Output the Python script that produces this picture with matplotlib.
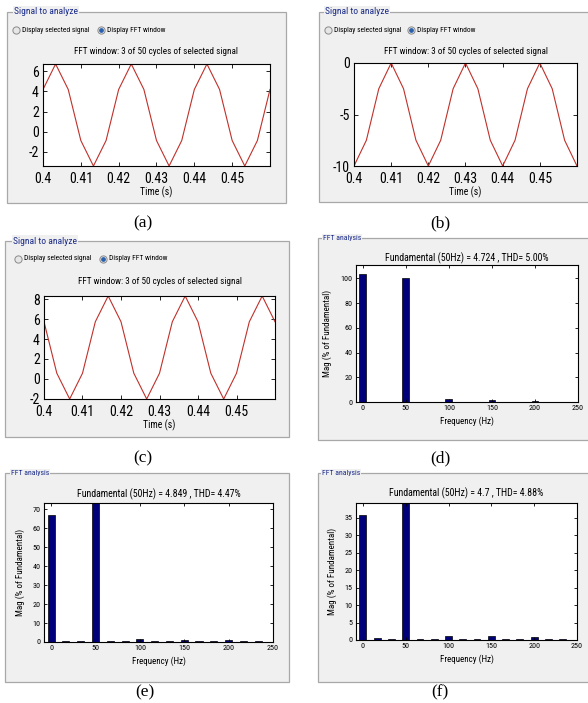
import matplotlib
matplotlib.use("Agg")
import matplotlib.pyplot as plt
from matplotlib.patches import Rectangle
from matplotlib.lines import Line2D
from matplotlib import font_manager

names = {f.name for f in font_manager.fontManager.ttflist}

def pick(cands, default):
    for c in cands:
        if c in names:
            return c
    return default

NARROW = pick(['Liberation Sans Narrow', 'Arial Narrow', 'Roboto Condensed',
               'Archivo Narrow', 'Asap Condensed', 'Barlow Semi Condensed'], 'DejaVu Sans')
SERIF = pick(['Liberation Serif', 'Tinos'], 'DejaVu Serif')

# ---------------- data ----------------
sig_t = [0.4, 0.40333, 0.40667, 0.41, 0.41333, 0.41667, 0.42, 0.42333, 0.42667,
         0.43, 0.43333, 0.43667, 0.44, 0.44333, 0.44667, 0.45, 0.45333, 0.45667, 0.46]
sig_a = [4.2, 6.73, 4.2, -0.87, -3.4, -0.87, 4.2, 6.73, 4.2, -0.87, -3.4, -0.87,
         4.2, 6.73, 4.2, -0.87, -3.4, -0.87, 4.2]
sig_b = [-10, -7.5, -2.5, 0, -2.5, -7.5, -10, -7.5, -2.5, 0, -2.5, -7.5,
         -10, -7.5, -2.5, 0, -2.5, -7.5, -10]
sig_c = [5.75, 0.55, -2.05, 0.55, 5.75, 8.35, 5.75, 0.55, -2.05, 0.55, 5.75, 8.35,
         5.75, 0.55, -2.05, 0.55, 5.75, 8.35, 5.75]
sig_xticks = [0.4, 0.41, 0.42, 0.43, 0.44, 0.45]
sig_xticklabels = ['0.4', '0.41', '0.42', '0.43', '0.44', '0.45']

fft_freq = [0, 16.67, 33.33, 50, 66.67, 83.33, 100, 116.67, 133.33, 150, 166.67,
            183.33, 200, 216.67, 233.33]
mag_d = [103.5, 0.3, 0.3, 100, 0.3, 0.3, 2.2, 0.3, 0.3, 1.6, 0.3, 0.3, 1.2, 0.3, 0.3]
mag_e = [67, 0.3, 0.3, 100, 0.3, 0.3, 1.6, 0.3, 0.3, 0.8, 0.3, 0.3, 0.8, 0.3, 0.3]
mag_f = [35.8, 0.7, 0.2, 100, 0.2, 0.2, 1.1, 0.2, 0.2, 1.1, 0.2, 0.2, 0.8, 0.2, 0.2]
fft_xticks = [0, 50, 100, 150, 200, 250]

title_sig = 'FFT window: 3 of 50 cycles of selected signal'
title_d = 'Fundamental (50Hz) = 4.724 , THD= 5.00%'
title_e = 'Fundamental (50Hz) = 4.849 , THD= 4.47%'
title_f = 'Fundamental (50Hz) = 4.7 , THD= 4.88%'
captions = ['(a)', '(b)', '(c)', '(d)', '(e)', '(f)']

# ---------------- figure ----------------
W, H = 588, 703
fig = plt.figure(figsize=(W / 100, H / 100), dpi=100)
fig.patch.set_facecolor('white')

def fx(x):
    return x / W

def fy(y):
    return 1 - y / H

def frame(l, t, r, b, title, tx, fs):
    rect = Rectangle((fx(l), fy(b)), fx(r) - fx(l), fy(t) - fy(b),
                     transform=fig.transFigure, facecolor='#f0f0f0',
                     edgecolor='#a8a8a8', lw=0.9, zorder=0)
    fig.add_artist(rect)
    fig.text(fx(tx), fy(t), title, family=NARROW, fontsize=fs, color='#1a2a8a',
             va='center', ha='left', zorder=1,
             bbox=dict(facecolor='#f0f0f0', edgecolor='none', pad=0.8))

def radio(y, x1, x2):
    for x, sel in ((x1, False), (x2, True)):
        fig.add_artist(Line2D([fx(x)], [fy(y)], marker='o', markersize=5.2,
                              markerfacecolor='#e6e6e6', markeredgecolor='#8a8a8a',
                              markeredgewidth=0.7, transform=fig.transFigure))
        if sel:
            fig.add_artist(Line2D([fx(x)], [fy(y)], marker='o', markersize=2.4,
                                  markerfacecolor='#2a5fb0', markeredgecolor='#2a5fb0',
                                  transform=fig.transFigure))
    fig.text(fx(x1 + 6), fy(y), 'Display selected signal', family=NARROW, fontsize=5.4,
             va='center', ha='left')
    fig.text(fx(x2 + 6), fy(y), 'Display FFT window', family=NARROW, fontsize=5.4,
             va='center', ha='left')

def add_ax(l, t, r, b):
    ax = fig.add_axes([fx(l), fy(b), fx(r) - fx(l), fy(t) - fy(b)])
    ax.set_facecolor('white')
    for s in ax.spines.values():
        s.set_linewidth(0.8)
        s.set_color('black')
    return ax

def sig_panel(box, t_title, vals, ylim, yticks, ticklbls):
    l, t, r, b = box
    ax = add_ax(l, t, r, b)
    ax.plot(sig_t, vals, color='#c0302a', lw=0.8)
    ax.set_xlim(0.4, 0.46)
    ax.set_ylim(*ylim)
    ax.set_xticks(sig_xticks)
    ax.set_xticklabels(sig_xticklabels)
    ax.set_yticks(yticks)
    ax.set_yticklabels(ticklbls)
    ax.tick_params(direction='in', top=True, right=True, length=3, width=0.6,
                   labelsize=10)
    ax.tick_params(axis='x', pad=4)
    ax.tick_params(axis='y', pad=3)
    for lab in ax.get_xticklabels() + ax.get_yticklabels():
        lab.set_family(NARROW)
    fig.text(fx((l + r) / 2), fy(t_title), title_sig, family=NARROW, fontsize=6.6,
             ha='center', va='center')
    fig.text(fx((l + r) / 2), fy(b + 26), 'Time (s)', family=NARROW, fontsize=7,
             ha='center', va='center')
    return ax

def fft_panel(box, t_title, title, mags, ylim, yticks, ylab_x):
    l, t, r, b = box
    ax = add_ax(l, t, r, b)
    ax.bar(fft_freq, mags, width=8, color='#00007a', edgecolor='black', lw=0.5)
    ax.set_xlim(-8, 250)
    ax.set_ylim(*ylim)
    ax.set_xticks(fft_xticks)
    ax.set_yticks(yticks)
    ax.tick_params(direction='in', top=True, right=True, length=2.5, width=0.6,
                   labelsize=5.8, pad=2.5)
    for lab in ax.get_xticklabels() + ax.get_yticklabels():
        lab.set_family(NARROW)
    fig.text(fx((l + r) / 2), fy(t_title), title, family=NARROW, fontsize=7.1,
             ha='center', va='center')
    fig.text(fx((l + r) / 2), fy(b + 19), 'Frequency (Hz)', family=NARROW, fontsize=6.5,
             ha='center', va='center')
    fig.text(fx(ylab_x), fy((t + b) / 2), 'Mag (% of Fundamental)', family=NARROW,
             fontsize=6.5, ha='center', va='center', rotation=90)
    return ax

# frames
frame(7, 12, 286, 203, 'Signal to analyze', 14, 6.8)
frame(319, 12, 600, 202, 'Signal to analyze', 325, 6.8)
frame(5, 241, 289, 437, 'Signal to analyze', 13, 6.8)
frame(318, 238, 600, 440, 'FFT analysis', 323, 5.6)
frame(5, 473, 289, 682, 'FFT analysis', 11, 5.6)
frame(318, 473, 600, 682, 'FFT analysis', 322, 5.6)

radio(30, 16, 101)
radio(30, 328, 411)
radio(259, 18, 103)

sig_panel((43, 64, 270, 166), 51, sig_a, (-3.4, 6.73), [-2, 0, 2, 4, 6],
          ['-2', '0', '2', '4', '6'])
sig_panel((354, 63, 577, 166), 51, sig_b, (-10, 0), [-10, -5, 0],
          ['-10', '-5', '0'])
sig_panel((44, 296, 275, 399), 282, sig_c, (-2.05, 8.35), [-2, 0, 2, 4, 6, 8],
          ['-2', '0', '2', '4', '6', '8'])

fft_panel((356, 265, 578, 402), 258, title_d, mag_d, (0, 110.8),
          [0, 20, 40, 60, 80, 100], 327)
fft_panel((44, 503, 273, 642), 494, title_e, mag_e, (0, 73.3),
          [0, 10, 20, 30, 40, 50, 60, 70], 20)
fft_panel((356, 503, 577, 640), 493, title_f, mag_f, (0, 39.2),
          [0, 5, 10, 15, 20, 25, 30, 35], 332)

# captions
cap_pos = [(143, 223), (440, 223), (143, 458), (440, 458), (145, 692), (440, 692)]
for c, (x, y) in zip(captions, cap_pos):
    fig.text(fx(x), fy(y), c, family=SERIF, fontsize=12.5, ha='center', va='center')

fig.savefig('out.png', dpi=100, facecolor='white')
